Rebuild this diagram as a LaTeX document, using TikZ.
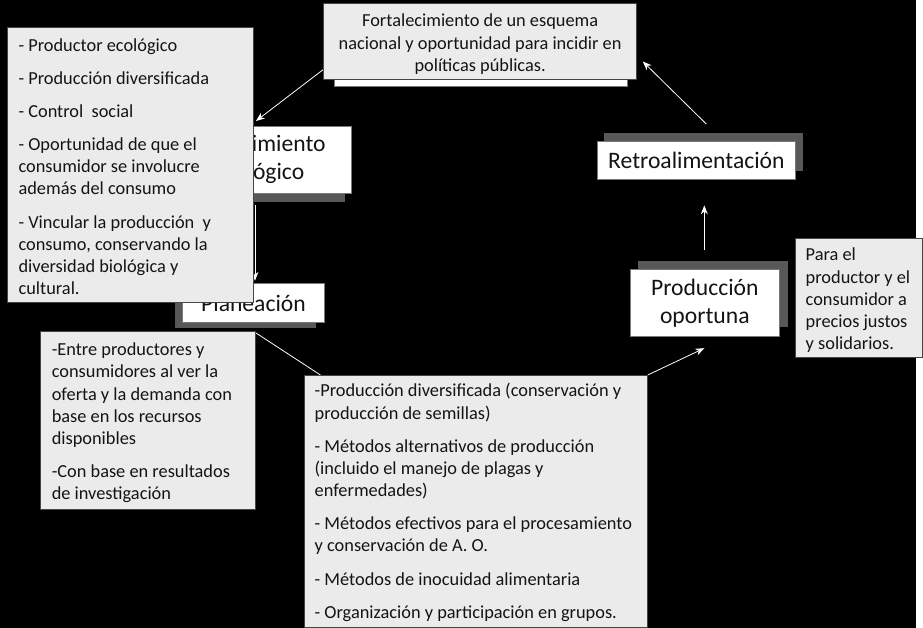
\documentclass[tikz,border=0pt]{standalone}
\usepackage{fontspec}
\setmainfont{Carlito}
\usetikzlibrary{arrows.meta,calc}
\definecolor{shadowgray}{RGB}{88,88,88}
\definecolor{boxgray}{RGB}{235,235,235}
\definecolor{grayedge}{RGB}{70,70,70}
\definecolor{boxedge}{RGB}{120,120,120}
\definecolor{txt}{RGB}{20,20,20}
\pgfdeclarelayer{bglayer}
\pgfdeclarelayer{linelayer}
\pgfsetlayers{bglayer,linelayer,main}
\begin{document}
\frenchspacing
\begin{tikzpicture}[x=1pt,y=-1pt,
  shadowbox/.style={fill=shadowgray, draw=none, inner sep=0pt, outer sep=0pt},
  whitebox/.style={fill=white, draw=boxedge, line width=0.8pt, inner sep=0pt, outer sep=0pt},
  graybox/.style={fill=boxgray, draw=grayedge, line width=0.9pt, inner sep=0pt, outer sep=0pt},
  bigtext/.style={font=\fontsize{23.8}{28.5}\selectfont, align=center, text=txt},
  smalltext/.style={font=\fontsize{18.5}{22.4}\selectfont, align=flush left, inner sep=0pt, anchor=base west, text=txt,
     execute at begin node={\spaceskip=0pt\relax\xspaceskip=0pt\relax\frenchspacing}},
  conn/.style={draw=white, line width=0.8pt, -{Stealth[length=9pt,width=7pt]}},
]
\begin{pgfonlayer}{bglayer}
\useasboundingbox (0,0) rectangle (923,633);
\fill[black] (0,0) rectangle (923,633);

% shadows and white boxes
\node[shadowbox, minimum width=186pt, minimum height=68pt] (conoshadow) at (255,170) {};
\node[whitebox, bigtext, minimum width=186pt, minimum height=68pt] (cono) at (261,161) {Conocimiento\\ecológico};

\node[shadowbox, minimum width=143pt, minimum height=39pt] (planshadow) at (247.5,311.5) {};
\node[whitebox, bigtext, minimum width=143pt, minimum height=39pt] (plan) at (255.5,305.5) {Planeación};

\node[shadowbox, minimum width=200pt, minimum height=38pt] (retroshadow) at (709,153) {};
\node[whitebox, bigtext, minimum width=200pt, minimum height=38pt] (retro) at (702,162) {Retroalimentación};

\node[shadowbox, minimum width=151pt, minimum height=67pt] (prodshadow) at (718.5,296.5) {};
\node[whitebox, bigtext, minimum width=151pt, minimum height=67pt] (prod) at (710.5,305.5) {Producción\\oportuna};

\node[whitebox, minimum width=295pt, minimum height=77pt] (topback) at (484.5,48.5) {};
\end{pgfonlayer}

% gray text boxes
\node[graybox, minimum width=247pt, minimum height=277pt] (lbox) at (131.5,166.5) {};
\node[smalltext, text width=235pt] (lboxtext) at (18.5,51.5) {- Productor ecológico\\[11pt]- Producción diversificada\\[11pt]- Control\ \ social\\[11pt]- Oportunidad de que el\\consumidor se involucre\\además del consumo\\[11pt]- Vincular la producción\ \ y\\consumo, conservando la\\diversidad biológica y\\cultural.};

\node[graybox, minimum width=216pt, minimum height=180pt] (lbb) at (149,424) {};
\node[smalltext, text width=204pt] (lbbtext) at (52,358.5) {-Entre productores y\\consumidores al ver la\\oferta y la demanda con\\base en los recursos\\disponibles\\[11pt]-Con base en resultados\\de investigación};

\node[graybox, minimum width=346pt, minimum height=254pt] (bot) at (480,505) {};
\node[smalltext, text width=335pt] (bottext) at (317,400) {-Producción diversificada (conservación y\\producción de semillas)\\[11pt]- Métodos alternativos de producción\\(incluido el manejo de plagas y\\enfermedades)\\[11pt]- Métodos efectivos para el procesamiento\\y conservación de A. O.\\[11pt]- Métodos de inocuidad alimentaria\\[11pt]- Organización y participación en grupos.};

\node[graybox, minimum width=316pt, minimum height=77pt] (topbox) at (484,41.5) {};
\node[smalltext, align=flush center, anchor=base, text width=316pt] (toptext) at (484,27) {Fortalecimiento de un esquema\\nacional y oportunidad para incidir en\\políticas públicas.};

\node[graybox, minimum width=128pt, minimum height=120pt] (rbox) at (866,300) {};
\node[smalltext, text width=110pt] (rboxtext) at (812,263) {Para el\\productor y el\\consumidor a\\precios justos\\y solidarios.};

% connectors
\begin{pgfonlayer}{linelayer}
\draw[conn] ($(topbox.south west)+(0,-10)$) -- ($(cono.north)+(-3,-5)$);
\draw[conn] ($(cono.south)+(-4,12)$) -- ($(plan.north)+(1.5,-3)$);
\draw[white, line width=0.8pt] ($(plan.south)+(1.5,10)$) -- ($(bot.north west)+(16,0)$);
\draw[conn] (bot.north east) -- ($(prod.south)+(-0.5,12)$);
\draw[conn] ($(prod.north)+(-0.5,-20)$) -- ($(retro.south)+(8,26)$);
\draw[conn] ($(retro.north)+(10,-18)$) -- ($(topbox.east)+(6,20.5)$);
\end{pgfonlayer}
\end{tikzpicture}
\end{document}
